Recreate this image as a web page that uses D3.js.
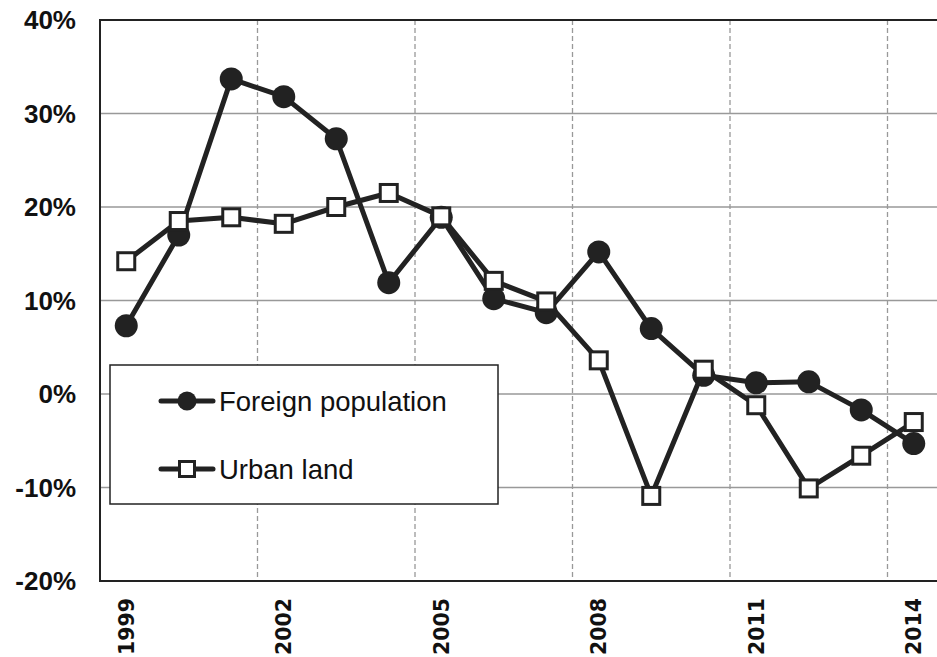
<!DOCTYPE html>
<html>
<head>
<meta charset="utf-8">
<script src="https://cdn.jsdelivr.net/npm/d3@7"></script>
<style>
  html, body { margin: 0; padding: 0; background: #fff; }
  svg { display: block; }
</style>
</head>
<body>
<svg id="chart" width="937" height="657"></svg>
<script>
// Annual growth rates, 1999-2014 (percent)
const years = ["1999","2000","2001","2002","2003","2004","2005","2006",
               "2007","2008","2009","2010","2011","2012","2013","2014"];
const foreignPopulation = [7.3, 17.0, 33.7, 31.8, 27.3, 11.9, 18.9, 10.2,
                           8.7, 15.2, 7.0, 2.0, 1.2, 1.3, -1.7, -5.3];
const urbanLand = [14.2, 18.5, 18.9, 18.2, 20.0, 21.5, 19.0, 12.1,
                   9.9, 3.6, -10.9, 2.6, -1.2, -10.1, -6.6, -3.0];
const yTicks = [-20, -10, 0, 10, 20, 30, 40];
const xTickLabels = ["1999","2002","2005","2008","2011","2014"];
const seriesNames = ["Foreign population", "Urban land"];

const svg = d3.select("#chart");
const plotLeft = 100, plotRight = 940, plotTop = 20, plotBottom = 581;
const ink = "#222";

const x = d3.scaleBand().domain(years).range([plotLeft, plotRight]).paddingInner(0).paddingOuter(0);
const y = d3.scaleLinear().domain([-20, 40]).range([plotBottom, plotTop]);
const cx = d => x(d) + x.bandwidth() / 2;

// horizontal gridlines
svg.append("g").selectAll("line")
  .data(yTicks.filter(v => v > -20 && v < 40))
  .join("line")
  .attr("x1", plotLeft).attr("x2", plotRight)
  .attr("y1", d => y(d)).attr("y2", d => y(d))
  .attr("stroke", "#999").attr("stroke-width", 1.5);

// vertical dashed gridlines at every third category boundary
svg.append("g").selectAll("line")
  .data(years.filter((d, i) => i > 0 && i % 3 === 0))
  .join("line")
  .attr("x1", d => x(d)).attr("x2", d => x(d))
  .attr("y1", plotTop).attr("y2", plotBottom)
  .attr("stroke", "#999").attr("stroke-width", 1.3)
  .attr("stroke-dasharray", "5,3");

// plot frame
svg.append("rect")
  .attr("x", plotLeft).attr("y", plotTop)
  .attr("width", plotRight - plotLeft).attr("height", plotBottom - plotTop)
  .attr("fill", "none").attr("stroke", ink).attr("stroke-width", 2);

// y axis labels
const yAxis = svg.append("g")
  .attr("transform", `translate(${plotLeft},0)`)
  .call(d3.axisLeft(y).tickValues(yTicks).tickFormat(d => d + "%").tickSize(0).tickPadding(24));
yAxis.select(".domain").remove();
yAxis.selectAll("text")
  .attr("font-family", "'Liberation Sans', Arial, sans-serif")
  .attr("font-weight", "bold").attr("font-size", 26).attr("fill", "#111")
  .attr("dy", "0.34em");

// x axis labels, rotated
const xAxis = svg.append("g")
  .attr("transform", `translate(0,${plotBottom})`)
  .call(d3.axisBottom(x).tickValues(xTickLabels).tickSize(0));
xAxis.select(".domain").remove();
xAxis.selectAll("text")
  .attr("font-family", "'DejaVu Sans', sans-serif")
  .attr("font-weight", "bold").attr("font-size", 20.5).attr("fill", "#111")
  .attr("text-anchor", "end")
  .attr("transform", "rotate(-90)")
  .attr("x", -17).attr("y", 7.5).attr("dy", 0);

const line = d3.line().x((v, i) => cx(years[i])).y(v => y(v));

// foreign population: line with filled circles
svg.append("path").datum(foreignPopulation)
  .attr("d", line).attr("fill", "none")
  .attr("stroke", ink).attr("stroke-width", 5).attr("stroke-linejoin", "round");
svg.append("g").selectAll("circle")
  .data(foreignPopulation)
  .join("circle")
  .attr("cx", (v, i) => cx(years[i])).attr("cy", v => y(v))
  .attr("r", 11.5).attr("fill", ink);

// urban land: line with hollow squares
svg.append("path").datum(urbanLand)
  .attr("d", line).attr("fill", "none")
  .attr("stroke", ink).attr("stroke-width", 5).attr("stroke-linejoin", "round");
const sq = 17;
svg.append("g").selectAll("rect")
  .data(urbanLand)
  .join("rect")
  .attr("x", (v, i) => cx(years[i]) - sq / 2).attr("y", v => y(v) - sq / 2)
  .attr("width", sq).attr("height", sq)
  .attr("fill", "#fff").attr("stroke", ink).attr("stroke-width", 3);

// legend
const legend = svg.append("g");
legend.append("rect")
  .attr("x", 110).attr("y", 365).attr("width", 388).attr("height", 139)
  .attr("fill", "#fff").attr("stroke", ink).attr("stroke-width", 1.5);
const rows = legend.selectAll("g.row")
  .data(seriesNames)
  .join("g").attr("class", "row")
  .attr("transform", (d, i) => `translate(0,${i === 0 ? 401 : 469})`);
rows.append("line")
  .attr("x1", 161).attr("x2", 213).attr("y1", 0).attr("y2", 0)
  .attr("stroke", ink).attr("stroke-width", 5).attr("stroke-linecap", "round");
rows.filter((d, i) => i === 0).append("circle")
  .attr("cx", 187).attr("cy", 0).attr("r", 9.5).attr("fill", ink);
rows.filter((d, i) => i === 1).append("rect")
  .attr("x", 187 - 7.5).attr("y", -7.5).attr("width", 15).attr("height", 15)
  .attr("fill", "#fff").attr("stroke", ink).attr("stroke-width", 3);
rows.append("text")
  .attr("x", 219).attr("y", 9.5)
  .attr("font-family", "'Liberation Sans', Arial, sans-serif")
  .attr("font-size", 27.5).attr("fill", "#111")
  .text(d => d);
</script>
</body>
</html>
